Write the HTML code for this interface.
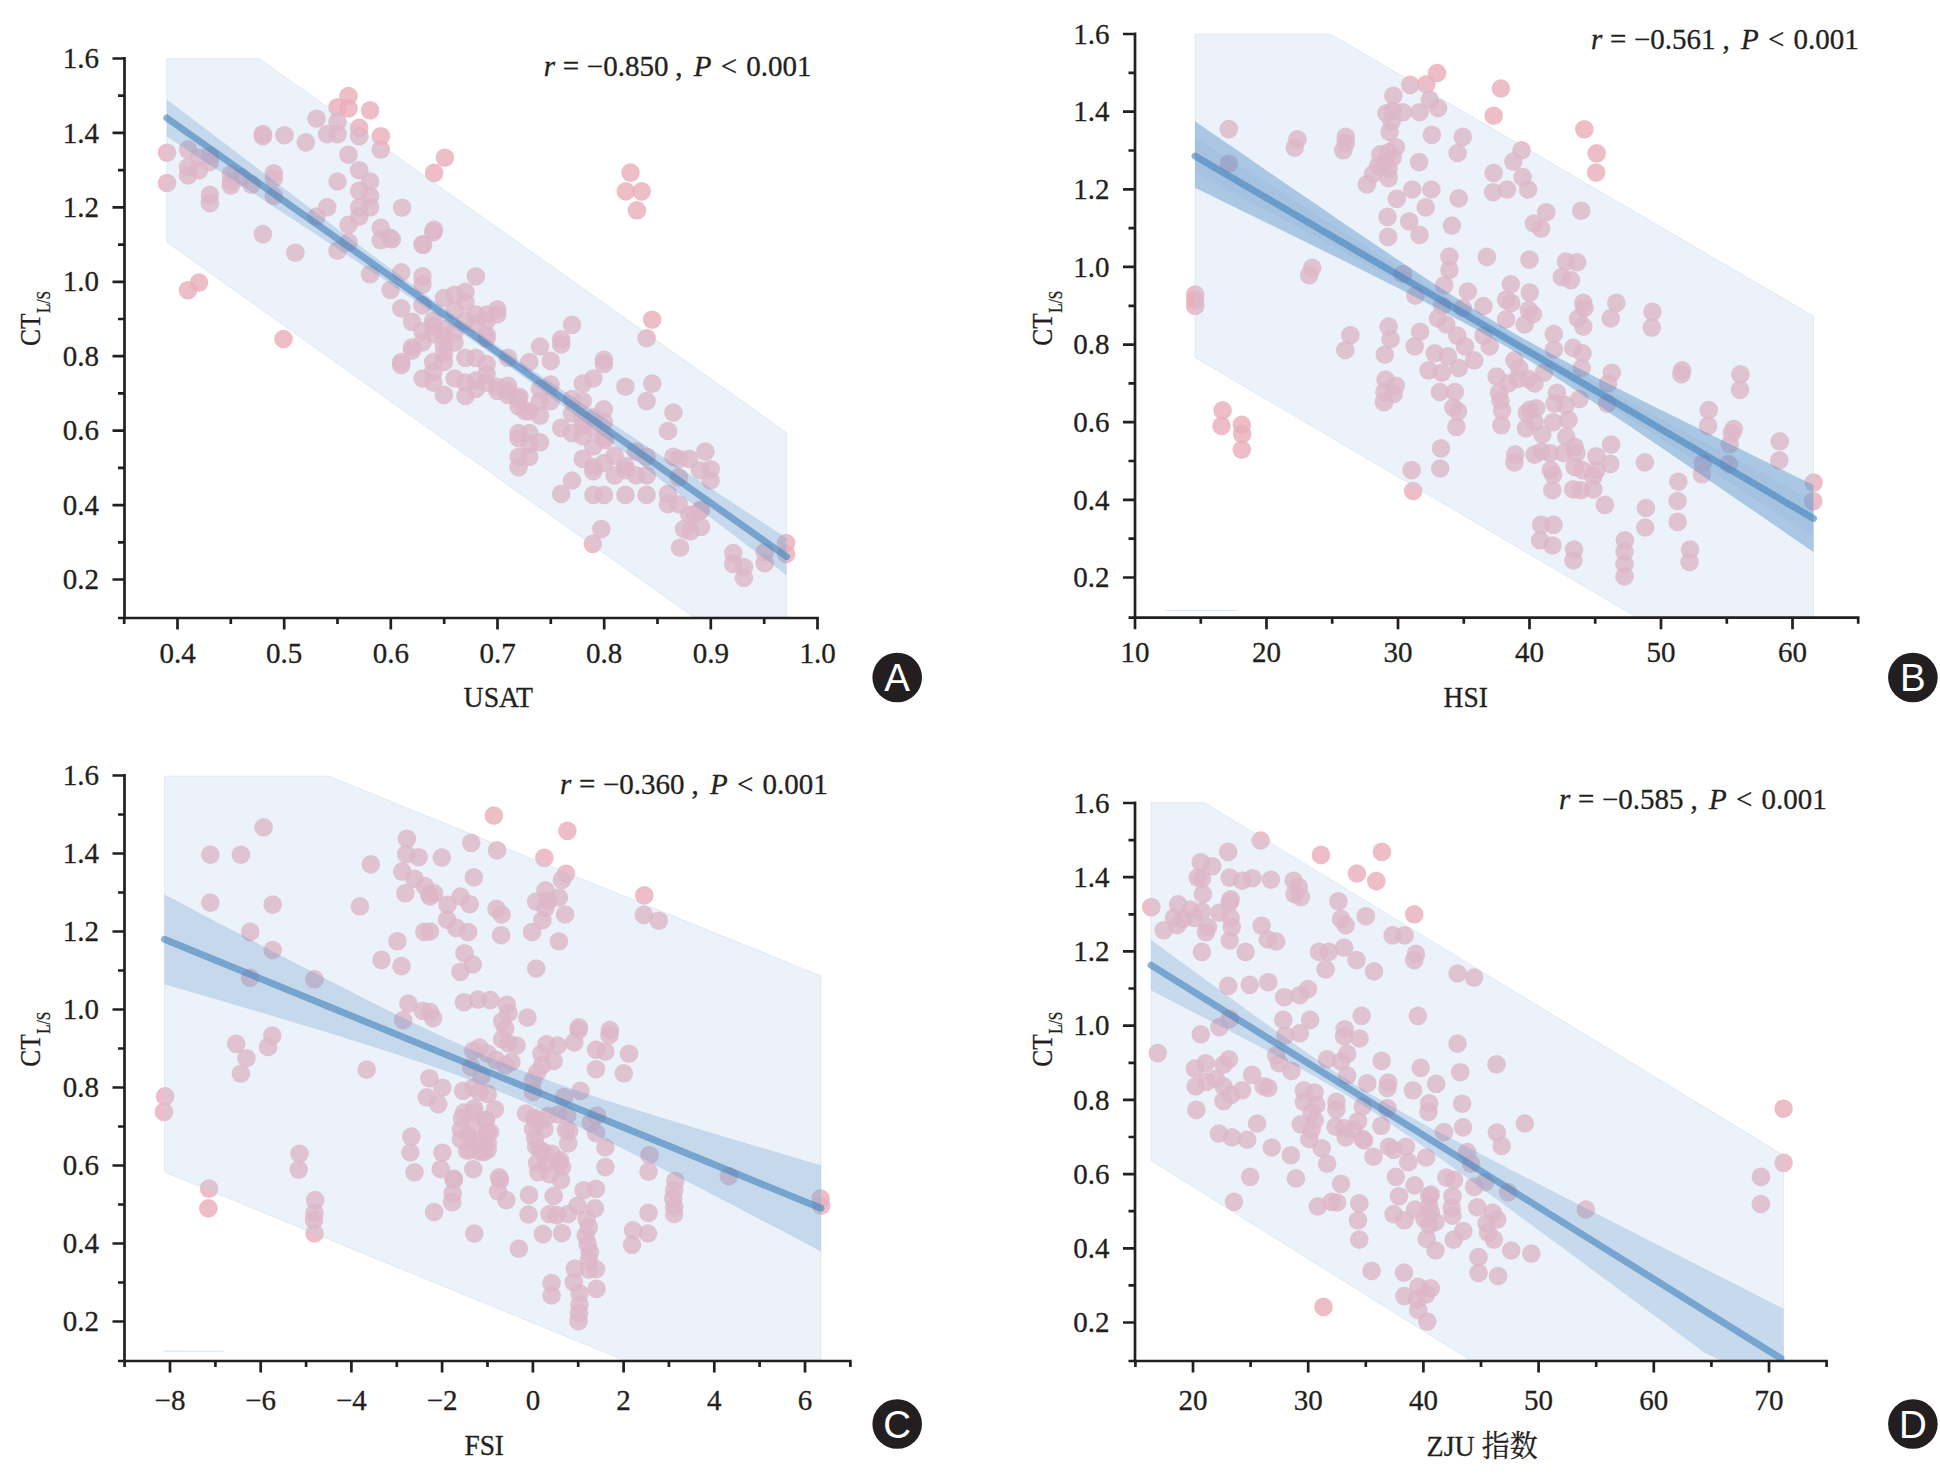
<!DOCTYPE html><html><head><meta charset="utf-8"><title>Figure</title>
<style>html,body{margin:0;padding:0;background:#fff}svg{display:block}text{font-family:"Liberation Serif", serif;fill:#231f20;stroke:#231f20;stroke-width:.3px}.s{font-family:"Liberation Sans", sans-serif}.t{font-size:29px}.d circle{fill:#eaaeba;fill-opacity:.8}</style></head><body>
<svg width="1940" height="1478" viewBox="0 0 1940 1478">
<rect width="1940" height="1478" fill="#fff"/>
<g id="panelA">
<g class="d">
<circle cx="167.0" cy="152.7" r="9.3"/>
<circle cx="167.0" cy="183.0" r="9.3"/>
<circle cx="188.0" cy="149.6" r="9.3"/>
<circle cx="188.0" cy="167.1" r="9.3"/>
<circle cx="188.0" cy="175.4" r="9.3"/>
<circle cx="199.0" cy="157.8" r="9.3"/>
<circle cx="199.0" cy="170.2" r="9.3"/>
<circle cx="209.9" cy="155.8" r="9.3"/>
<circle cx="209.9" cy="162.0" r="9.3"/>
<circle cx="209.9" cy="194.9" r="9.3"/>
<circle cx="209.9" cy="203.2" r="9.3"/>
<circle cx="230.9" cy="174.3" r="9.3"/>
<circle cx="230.9" cy="181.5" r="9.3"/>
<circle cx="230.9" cy="185.7" r="9.3"/>
<circle cx="241.2" cy="177.4" r="9.3"/>
<circle cx="251.5" cy="184.6" r="9.3"/>
<circle cx="262.9" cy="134.1" r="9.3"/>
<circle cx="262.9" cy="136.2" r="9.3"/>
<circle cx="262.9" cy="234.1" r="9.3"/>
<circle cx="273.8" cy="173.3" r="9.3"/>
<circle cx="273.8" cy="178.5" r="9.3"/>
<circle cx="273.8" cy="196.0" r="9.3"/>
<circle cx="284.5" cy="135.2" r="9.3"/>
<circle cx="295.3" cy="252.7" r="9.3"/>
<circle cx="305.8" cy="142.4" r="9.3"/>
<circle cx="316.5" cy="118.7" r="9.3"/>
<circle cx="316.5" cy="216.6" r="9.3"/>
<circle cx="327.2" cy="134.1" r="9.3"/>
<circle cx="327.2" cy="207.3" r="9.3"/>
<circle cx="337.5" cy="107.3" r="9.3"/>
<circle cx="337.5" cy="121.8" r="9.3"/>
<circle cx="337.5" cy="134.1" r="9.3"/>
<circle cx="337.5" cy="181.5" r="9.3"/>
<circle cx="337.5" cy="250.6" r="9.3"/>
<circle cx="348.5" cy="96.0" r="9.3"/>
<circle cx="348.5" cy="108.4" r="9.3"/>
<circle cx="348.5" cy="154.7" r="9.3"/>
<circle cx="348.5" cy="224.8" r="9.3"/>
<circle cx="348.5" cy="242.4" r="9.3"/>
<circle cx="359.2" cy="127.9" r="9.3"/>
<circle cx="359.2" cy="136.2" r="9.3"/>
<circle cx="359.2" cy="170.2" r="9.3"/>
<circle cx="359.2" cy="190.8" r="9.3"/>
<circle cx="359.2" cy="207.3" r="9.3"/>
<circle cx="359.2" cy="216.6" r="9.3"/>
<circle cx="370.1" cy="110.4" r="9.3"/>
<circle cx="370.1" cy="181.5" r="9.3"/>
<circle cx="370.1" cy="196.0" r="9.3"/>
<circle cx="370.1" cy="207.3" r="9.3"/>
<circle cx="370.1" cy="274.3" r="9.3"/>
<circle cx="380.8" cy="136.2" r="9.3"/>
<circle cx="380.8" cy="149.6" r="9.3"/>
<circle cx="380.8" cy="227.9" r="9.3"/>
<circle cx="380.8" cy="240.3" r="9.3"/>
<circle cx="391.8" cy="239.3" r="9.3"/>
<circle cx="188.0" cy="290.2" r="9.3"/>
<circle cx="199.0" cy="282.6" r="9.3"/>
<circle cx="390.5" cy="289.8" r="9.3"/>
<circle cx="401.2" cy="272.3" r="9.3"/>
<circle cx="401.2" cy="308.4" r="9.3"/>
<circle cx="401.2" cy="362.0" r="9.3"/>
<circle cx="401.2" cy="365.1" r="9.3"/>
<circle cx="412.0" cy="321.8" r="9.3"/>
<circle cx="412.0" cy="347.5" r="9.3"/>
<circle cx="412.0" cy="350.6" r="9.3"/>
<circle cx="422.5" cy="244.4" r="9.3"/>
<circle cx="422.5" cy="276.4" r="9.3"/>
<circle cx="422.5" cy="284.6" r="9.3"/>
<circle cx="422.5" cy="331.0" r="9.3"/>
<circle cx="422.5" cy="342.4" r="9.3"/>
<circle cx="422.5" cy="378.5" r="9.3"/>
<circle cx="433.2" cy="232.1" r="9.3"/>
<circle cx="433.2" cy="320.7" r="9.3"/>
<circle cx="433.2" cy="362.0" r="9.3"/>
<circle cx="433.2" cy="372.3" r="9.3"/>
<circle cx="433.2" cy="382.6" r="9.3"/>
<circle cx="443.9" cy="298.0" r="9.3"/>
<circle cx="443.9" cy="329.0" r="9.3"/>
<circle cx="443.9" cy="345.5" r="9.3"/>
<circle cx="443.9" cy="353.7" r="9.3"/>
<circle cx="443.9" cy="362.0" r="9.3"/>
<circle cx="443.9" cy="394.9" r="9.3"/>
<circle cx="454.6" cy="294.9" r="9.3"/>
<circle cx="454.6" cy="310.4" r="9.3"/>
<circle cx="454.6" cy="378.5" r="9.3"/>
<circle cx="465.4" cy="291.9" r="9.3"/>
<circle cx="465.4" cy="302.2" r="9.3"/>
<circle cx="465.4" cy="357.8" r="9.3"/>
<circle cx="465.4" cy="382.6" r="9.3"/>
<circle cx="465.4" cy="396.0" r="9.3"/>
<circle cx="475.9" cy="276.4" r="9.3"/>
<circle cx="475.9" cy="314.5" r="9.3"/>
<circle cx="475.9" cy="357.8" r="9.3"/>
<circle cx="475.9" cy="380.5" r="9.3"/>
<circle cx="475.9" cy="388.8" r="9.3"/>
<circle cx="486.6" cy="314.5" r="9.3"/>
<circle cx="486.6" cy="320.7" r="9.3"/>
<circle cx="486.6" cy="335.2" r="9.3"/>
<circle cx="486.6" cy="364.0" r="9.3"/>
<circle cx="486.6" cy="374.3" r="9.3"/>
<circle cx="486.6" cy="382.6" r="9.3"/>
<circle cx="497.3" cy="309.4" r="9.3"/>
<circle cx="497.3" cy="314.5" r="9.3"/>
<circle cx="497.3" cy="386.7" r="9.3"/>
<circle cx="497.3" cy="390.8" r="9.3"/>
<circle cx="508.0" cy="357.8" r="9.3"/>
<circle cx="508.0" cy="385.7" r="9.3"/>
<circle cx="508.0" cy="390.8" r="9.3"/>
<circle cx="508.0" cy="394.9" r="9.3"/>
<circle cx="518.6" cy="399.1" r="9.3"/>
<circle cx="518.6" cy="406.3" r="9.3"/>
<circle cx="518.6" cy="433.1" r="9.3"/>
<circle cx="518.6" cy="438.2" r="9.3"/>
<circle cx="518.6" cy="456.8" r="9.3"/>
<circle cx="518.6" cy="467.1" r="9.3"/>
<circle cx="529.3" cy="362.0" r="9.3"/>
<circle cx="529.3" cy="411.4" r="9.3"/>
<circle cx="529.3" cy="433.1" r="9.3"/>
<circle cx="529.3" cy="444.4" r="9.3"/>
<circle cx="529.3" cy="456.8" r="9.3"/>
<circle cx="540.0" cy="346.5" r="9.3"/>
<circle cx="540.0" cy="388.8" r="9.3"/>
<circle cx="540.0" cy="401.1" r="9.3"/>
<circle cx="540.0" cy="415.6" r="9.3"/>
<circle cx="540.0" cy="442.4" r="9.3"/>
<circle cx="550.7" cy="360.9" r="9.3"/>
<circle cx="550.7" cy="384.6" r="9.3"/>
<circle cx="550.7" cy="401.1" r="9.3"/>
<circle cx="561.2" cy="339.3" r="9.3"/>
<circle cx="561.2" cy="344.4" r="9.3"/>
<circle cx="561.2" cy="427.9" r="9.3"/>
<circle cx="561.2" cy="493.9" r="9.3"/>
<circle cx="572.0" cy="324.8" r="9.3"/>
<circle cx="572.0" cy="399.1" r="9.3"/>
<circle cx="572.0" cy="413.5" r="9.3"/>
<circle cx="572.0" cy="433.1" r="9.3"/>
<circle cx="572.0" cy="480.5" r="9.3"/>
<circle cx="582.7" cy="383.6" r="9.3"/>
<circle cx="582.7" cy="401.1" r="9.3"/>
<circle cx="582.7" cy="419.7" r="9.3"/>
<circle cx="582.7" cy="436.2" r="9.3"/>
<circle cx="582.7" cy="458.9" r="9.3"/>
<circle cx="593.4" cy="378.5" r="9.3"/>
<circle cx="593.4" cy="427.9" r="9.3"/>
<circle cx="593.4" cy="446.5" r="9.3"/>
<circle cx="593.4" cy="467.1" r="9.3"/>
<circle cx="593.4" cy="471.2" r="9.3"/>
<circle cx="593.4" cy="494.9" r="9.3"/>
<circle cx="603.9" cy="359.9" r="9.3"/>
<circle cx="603.9" cy="364.0" r="9.3"/>
<circle cx="603.9" cy="409.4" r="9.3"/>
<circle cx="603.9" cy="421.8" r="9.3"/>
<circle cx="603.9" cy="438.2" r="9.3"/>
<circle cx="603.9" cy="463.0" r="9.3"/>
<circle cx="603.9" cy="494.9" r="9.3"/>
<circle cx="614.6" cy="455.8" r="9.3"/>
<circle cx="614.6" cy="475.4" r="9.3"/>
<circle cx="625.4" cy="386.7" r="9.3"/>
<circle cx="625.4" cy="466.1" r="9.3"/>
<circle cx="625.4" cy="470.2" r="9.3"/>
<circle cx="625.4" cy="494.9" r="9.3"/>
<circle cx="636.1" cy="451.6" r="9.3"/>
<circle cx="636.1" cy="475.4" r="9.3"/>
<circle cx="646.6" cy="338.2" r="9.3"/>
<circle cx="646.6" cy="401.1" r="9.3"/>
<circle cx="646.6" cy="456.8" r="9.3"/>
<circle cx="646.6" cy="475.4" r="9.3"/>
<circle cx="646.6" cy="494.9" r="9.3"/>
<circle cx="652.2" cy="319.7" r="9.3"/>
<circle cx="652.2" cy="383.6" r="9.3"/>
<circle cx="668.0" cy="431.0" r="9.3"/>
<circle cx="668.0" cy="493.9" r="9.3"/>
<circle cx="668.0" cy="504.2" r="9.3"/>
<circle cx="673.4" cy="412.5" r="9.3"/>
<circle cx="673.4" cy="456.8" r="9.3"/>
<circle cx="678.8" cy="458.9" r="9.3"/>
<circle cx="678.8" cy="477.4" r="9.3"/>
<circle cx="678.8" cy="504.2" r="9.3"/>
<circle cx="689.3" cy="458.9" r="9.3"/>
<circle cx="689.3" cy="514.5" r="9.3"/>
<circle cx="700.0" cy="470.2" r="9.3"/>
<circle cx="700.0" cy="510.4" r="9.3"/>
<circle cx="705.4" cy="451.6" r="9.3"/>
<circle cx="710.7" cy="469.2" r="9.3"/>
<circle cx="710.7" cy="480.5" r="9.3"/>
<circle cx="444.9" cy="157.7" r="9.3"/>
<circle cx="434.1" cy="172.9" r="9.3"/>
<circle cx="402.1" cy="207.7" r="9.3"/>
<circle cx="434.1" cy="229.8" r="9.3"/>
<circle cx="423.2" cy="244.8" r="9.3"/>
<circle cx="390.0" cy="237.8" r="9.3"/>
<circle cx="630.5" cy="172.6" r="9.3"/>
<circle cx="625.8" cy="191.4" r="9.3"/>
<circle cx="641.7" cy="191.4" r="9.3"/>
<circle cx="636.9" cy="210.3" r="9.3"/>
<circle cx="592.8" cy="543.8" r="9.3"/>
<circle cx="601.3" cy="529.1" r="9.3"/>
<circle cx="680.1" cy="547.7" r="9.3"/>
<circle cx="733.2" cy="553.1" r="9.3"/>
<circle cx="733.2" cy="563.9" r="9.3"/>
<circle cx="743.9" cy="567.0" r="9.3"/>
<circle cx="743.9" cy="577.8" r="9.3"/>
<circle cx="764.7" cy="552.3" r="9.3"/>
<circle cx="764.7" cy="563.1" r="9.3"/>
<circle cx="786.1" cy="543.0" r="9.3"/>
<circle cx="786.1" cy="553.9" r="9.3"/>
<circle cx="684.0" cy="529.1" r="9.3"/>
<circle cx="690.5" cy="531.4" r="9.3"/>
<circle cx="701.0" cy="526.8" r="9.3"/>
<circle cx="694.8" cy="514.4" r="9.3"/>
<circle cx="701.0" cy="509.8" r="9.3"/>
<circle cx="283.5" cy="339.0" r="9.3"/>
<circle cx="422.5" cy="305.4" r="9.3"/>
<circle cx="433.2" cy="326.0" r="9.3"/>
<circle cx="433.2" cy="334.2" r="9.3"/>
<circle cx="443.8" cy="336.0" r="9.3"/>
<circle cx="454.5" cy="332.2" r="9.3"/>
<circle cx="454.5" cy="342.5" r="9.3"/>
<circle cx="465.2" cy="320.8" r="9.3"/>
<circle cx="475.8" cy="323.9" r="9.3"/>
<circle cx="486.5" cy="338.4" r="9.3"/>
<circle cx="519.4" cy="396.8" r="9.3"/>
<circle cx="525.0" cy="411.0" r="9.3"/>
<circle cx="582.8" cy="425.7" r="9.3"/>
<circle cx="593.0" cy="417.4" r="9.3"/>
<circle cx="605.0" cy="440.0" r="9.3"/>
</g>
<polygon points="166.8,58.7 259.4,58.7 786.4,432.5 786.4,617.0 693.4,617.0 166.8,242.2" fill="#bbd1ea" fill-opacity=".28" stroke="#b9d2ea" stroke-opacity=".35" stroke-width="1"/>
<polygon points="166.8,99.4 182.3,111.2 197.8,123.0 213.3,134.8 228.8,146.6 244.3,158.3 259.8,170.1 275.3,181.9 290.8,193.6 306.3,205.3 321.8,217.0 337.2,228.7 352.7,240.4 368.2,252.0 383.7,263.6 399.2,275.1 414.7,286.5 430.2,297.9 445.7,309.2 461.2,320.3 476.7,331.3 492.2,342.2 507.7,353.0 523.2,363.7 538.7,374.2 554.2,384.7 569.7,395.1 585.2,405.5 600.7,415.8 616.2,426.1 631.7,436.3 647.1,446.5 662.6,456.7 678.1,466.9 693.6,477.1 709.1,487.3 724.6,497.4 740.1,507.6 755.6,517.7 771.1,527.9 786.6,538.0 786.6,575.4 771.1,563.6 755.6,551.8 740.1,540.0 724.6,528.2 709.1,516.4 693.6,504.7 678.1,492.9 662.6,481.2 647.1,469.4 631.7,457.7 616.2,446.0 600.7,434.4 585.2,422.8 569.7,411.2 554.2,399.7 538.7,388.2 523.2,376.8 507.7,365.6 492.2,354.4 476.7,343.4 461.2,332.4 445.7,321.7 430.2,311.0 414.7,300.4 399.2,289.9 383.7,279.5 368.2,269.2 352.7,258.8 337.2,248.6 321.8,238.3 306.3,228.1 290.8,217.9 275.3,207.7 259.8,197.5 244.3,187.3 228.8,177.2 213.3,167.0 197.8,156.9 182.3,146.8 166.8,136.6" fill="#4f8cc6" fill-opacity="0.25"/>
<line x1="166.8" y1="118.0" x2="786.6" y2="556.7" stroke="#4182ba" stroke-opacity=".6" stroke-width="6.9" stroke-linecap="round"/>
<path d="M124.5 57.1V619.4M118.0 618.0H818.9M112.5 58.5h12.0M118.0 95.7h6.5M112.5 132.9h12.0M118.0 170.1h6.5M112.5 207.4h12.0M118.0 244.6h6.5M112.5 281.8h12.0M118.0 319.0h6.5M112.5 356.2h12.0M118.0 393.4h6.5M112.5 430.6h12.0M118.0 467.9h6.5M112.5 505.1h12.0M118.0 542.3h6.5M112.5 579.5h12.0M177.5 618.0v11.5M284.2 618.0v11.5M390.8 618.0v11.5M497.5 618.0v11.5M604.2 618.0v11.5M710.8 618.0v11.5M817.5 618.0v11.5M124.2 618.0v6M230.8 618.0v6M337.5 618.0v6M444.2 618.0v6M550.8 618.0v6M657.5 618.0v6M764.2 618.0v6" stroke="#231f20" stroke-width="2.7" fill="none"/>
<text class="t" x="99.0" y="68.1" text-anchor="end">1.6</text>
<text class="t" x="99.0" y="142.5" text-anchor="end">1.4</text>
<text class="t" x="99.0" y="217.0" text-anchor="end">1.2</text>
<text class="t" x="99.0" y="291.4" text-anchor="end">1.0</text>
<text class="t" x="99.0" y="365.8" text-anchor="end">0.8</text>
<text class="t" x="99.0" y="440.2" text-anchor="end">0.6</text>
<text class="t" x="99.0" y="514.7" text-anchor="end">0.4</text>
<text class="t" x="99.0" y="589.1" text-anchor="end">0.2</text>
<text class="t" x="177.5" y="662.7" text-anchor="middle">0.4</text>
<text class="t" x="284.2" y="662.7" text-anchor="middle">0.5</text>
<text class="t" x="390.8" y="662.7" text-anchor="middle">0.6</text>
<text class="t" x="497.5" y="662.7" text-anchor="middle">0.7</text>
<text class="t" x="604.2" y="662.7" text-anchor="middle">0.8</text>
<text class="t" x="710.8" y="662.7" text-anchor="middle">0.9</text>
<text class="t" x="817.5" y="662.7" text-anchor="middle">1.0</text>
<text x="463.6" y="706.9" textLength="69.5" lengthAdjust="spacingAndGlyphs" style="font-size:29.5px;font-family:&quot;Liberation Serif&quot;, &quot;Noto Serif CJK SC&quot;, serif">USAT</text>
<text transform="translate(39.8 346.0) rotate(-90)" style="font-size:30px"><tspan textLength="32.5" lengthAdjust="spacingAndGlyphs">CT</tspan><tspan dy="9.7" dx="0.5" style="font-size:18px" textLength="22" lengthAdjust="spacingAndGlyphs">L/S</tspan></text>
<text class="t" y="76.0"><tspan x="543.8" font-style="italic">r</tspan><tspan x="562.8">=</tspan><tspan x="586.8">−0.850</tspan><tspan x="675.3">,</tspan><tspan x="693.8" font-style="italic">P</tspan><tspan x="720.8">&lt;</tspan><tspan x="746.3">0.001</tspan></text>
<circle cx="897.2" cy="677.5" r="24.8" fill="#231f20"/>
<text class="s" x="897.2" y="691.3" text-anchor="middle" style="font-size:38.5px;fill:#fff;stroke:none">A</text>
</g>
<g id="panelB">
<g class="d">
<circle cx="1228.8" cy="129.1" r="9.3"/>
<circle cx="1228.8" cy="163.7" r="9.3"/>
<circle cx="1297.4" cy="139.4" r="9.3"/>
<circle cx="1294.7" cy="147.6" r="9.3"/>
<circle cx="1345.7" cy="136.9" r="9.3"/>
<circle cx="1345.7" cy="143.1" r="9.3"/>
<circle cx="1343.2" cy="150.3" r="9.3"/>
<circle cx="1195.2" cy="294.6" r="9.3"/>
<circle cx="1195.2" cy="299.8" r="9.3"/>
<circle cx="1195.2" cy="306.0" r="9.3"/>
<circle cx="1312.3" cy="267.8" r="9.3"/>
<circle cx="1309.2" cy="275.1" r="9.3"/>
<circle cx="1437.0" cy="73.0" r="9.3"/>
<circle cx="1426.3" cy="84.3" r="9.3"/>
<circle cx="1410.2" cy="84.9" r="9.3"/>
<circle cx="1393.3" cy="95.7" r="9.3"/>
<circle cx="1429.8" cy="99.8" r="9.3"/>
<circle cx="1438.0" cy="108.0" r="9.3"/>
<circle cx="1419.5" cy="112.2" r="9.3"/>
<circle cx="1403.0" cy="112.2" r="9.3"/>
<circle cx="1392.7" cy="111.1" r="9.3"/>
<circle cx="1386.5" cy="113.2" r="9.3"/>
<circle cx="1391.6" cy="121.4" r="9.3"/>
<circle cx="1389.6" cy="131.8" r="9.3"/>
<circle cx="1431.9" cy="134.8" r="9.3"/>
<circle cx="1462.8" cy="136.9" r="9.3"/>
<circle cx="1457.6" cy="153.0" r="9.3"/>
<circle cx="1395.8" cy="147.2" r="9.3"/>
<circle cx="1388.6" cy="152.4" r="9.3"/>
<circle cx="1380.3" cy="154.4" r="9.3"/>
<circle cx="1392.7" cy="157.5" r="9.3"/>
<circle cx="1384.4" cy="161.6" r="9.3"/>
<circle cx="1378.2" cy="165.8" r="9.3"/>
<circle cx="1388.6" cy="168.9" r="9.3"/>
<circle cx="1373.1" cy="174.0" r="9.3"/>
<circle cx="1388.6" cy="178.1" r="9.3"/>
<circle cx="1366.9" cy="184.3" r="9.3"/>
<circle cx="1419.1" cy="162.1" r="9.3"/>
<circle cx="1412.3" cy="189.5" r="9.3"/>
<circle cx="1431.4" cy="189.5" r="9.3"/>
<circle cx="1396.8" cy="198.8" r="9.3"/>
<circle cx="1425.7" cy="207.4" r="9.3"/>
<circle cx="1458.7" cy="198.4" r="9.3"/>
<circle cx="1387.5" cy="216.9" r="9.3"/>
<circle cx="1409.2" cy="221.4" r="9.3"/>
<circle cx="1419.5" cy="234.8" r="9.3"/>
<circle cx="1388.1" cy="236.9" r="9.3"/>
<circle cx="1451.9" cy="225.6" r="9.3"/>
<circle cx="1500.9" cy="88.5" r="9.3"/>
<circle cx="1493.7" cy="115.7" r="9.3"/>
<circle cx="1521.5" cy="150.3" r="9.3"/>
<circle cx="1513.3" cy="161.6" r="9.3"/>
<circle cx="1493.7" cy="173.0" r="9.3"/>
<circle cx="1522.6" cy="177.1" r="9.3"/>
<circle cx="1493.1" cy="192.2" r="9.3"/>
<circle cx="1507.1" cy="189.5" r="9.3"/>
<circle cx="1528.1" cy="189.5" r="9.3"/>
<circle cx="1546.3" cy="212.2" r="9.3"/>
<circle cx="1533.9" cy="223.5" r="9.3"/>
<circle cx="1541.1" cy="228.7" r="9.3"/>
<circle cx="1449.4" cy="256.5" r="9.3"/>
<circle cx="1449.4" cy="269.9" r="9.3"/>
<circle cx="1486.9" cy="256.9" r="9.3"/>
<circle cx="1529.4" cy="259.6" r="9.3"/>
<circle cx="1565.9" cy="261.6" r="9.3"/>
<circle cx="1444.2" cy="285.4" r="9.3"/>
<circle cx="1403.0" cy="274.0" r="9.3"/>
<circle cx="1415.4" cy="295.7" r="9.3"/>
<circle cx="1467.9" cy="291.5" r="9.3"/>
<circle cx="1510.8" cy="284.3" r="9.3"/>
<circle cx="1529.8" cy="292.6" r="9.3"/>
<circle cx="1561.8" cy="277.1" r="9.3"/>
<circle cx="1506.1" cy="299.8" r="9.3"/>
<circle cx="1511.2" cy="302.9" r="9.3"/>
<circle cx="1483.4" cy="306.0" r="9.3"/>
<circle cx="1442.2" cy="306.0" r="9.3"/>
<circle cx="1462.8" cy="308.0" r="9.3"/>
<circle cx="1528.8" cy="310.1" r="9.3"/>
<circle cx="1532.9" cy="314.2" r="9.3"/>
<circle cx="1438.0" cy="318.4" r="9.3"/>
<circle cx="1446.3" cy="324.5" r="9.3"/>
<circle cx="1506.1" cy="319.4" r="9.3"/>
<circle cx="1524.6" cy="324.5" r="9.3"/>
<circle cx="1388.6" cy="326.6" r="9.3"/>
<circle cx="1584.3" cy="129.3" r="9.3"/>
<circle cx="1596.7" cy="153.4" r="9.3"/>
<circle cx="1596.1" cy="172.6" r="9.3"/>
<circle cx="1581.2" cy="210.7" r="9.3"/>
<circle cx="1577.1" cy="262.3" r="9.3"/>
<circle cx="1570.9" cy="280.2" r="9.3"/>
<circle cx="1583.3" cy="302.9" r="9.3"/>
<circle cx="1584.3" cy="308.0" r="9.3"/>
<circle cx="1616.3" cy="302.9" r="9.3"/>
<circle cx="1610.7" cy="318.4" r="9.3"/>
<circle cx="1652.4" cy="311.8" r="9.3"/>
<circle cx="1651.8" cy="327.6" r="9.3"/>
<circle cx="1578.1" cy="318.4" r="9.3"/>
<circle cx="1583.3" cy="326.6" r="9.3"/>
<circle cx="1222.6" cy="410.4" r="9.3"/>
<circle cx="1221.5" cy="425.9" r="9.3"/>
<circle cx="1241.8" cy="424.8" r="9.3"/>
<circle cx="1242.2" cy="434.1" r="9.3"/>
<circle cx="1241.8" cy="449.6" r="9.3"/>
<circle cx="1350.4" cy="335.2" r="9.3"/>
<circle cx="1345.3" cy="350.0" r="9.3"/>
<circle cx="1390.6" cy="339.3" r="9.3"/>
<circle cx="1384.8" cy="354.7" r="9.3"/>
<circle cx="1385.5" cy="379.5" r="9.3"/>
<circle cx="1395.8" cy="385.7" r="9.3"/>
<circle cx="1384.4" cy="391.9" r="9.3"/>
<circle cx="1393.7" cy="393.9" r="9.3"/>
<circle cx="1384.0" cy="402.2" r="9.3"/>
<circle cx="1541.1" cy="524.8" r="9.3"/>
<circle cx="1553.5" cy="524.8" r="9.3"/>
<circle cx="1540.1" cy="540.3" r="9.3"/>
<circle cx="1552.5" cy="545.5" r="9.3"/>
<circle cx="1708.7" cy="410.0" r="9.3"/>
<circle cx="1708.0" cy="425.9" r="9.3"/>
<circle cx="1733.8" cy="429.0" r="9.3"/>
<circle cx="1731.8" cy="433.1" r="9.3"/>
<circle cx="1729.7" cy="444.4" r="9.3"/>
<circle cx="1728.7" cy="464.0" r="9.3"/>
<circle cx="1702.9" cy="463.0" r="9.3"/>
<circle cx="1701.9" cy="474.3" r="9.3"/>
<circle cx="1740.4" cy="374.3" r="9.3"/>
<circle cx="1740.0" cy="389.8" r="9.3"/>
<circle cx="1779.8" cy="441.3" r="9.3"/>
<circle cx="1779.2" cy="460.3" r="9.3"/>
<circle cx="1813.6" cy="482.6" r="9.3"/>
<circle cx="1813.2" cy="501.1" r="9.3"/>
<circle cx="1574.0" cy="549.6" r="9.3"/>
<circle cx="1573.4" cy="560.5" r="9.3"/>
<circle cx="1624.9" cy="540.3" r="9.3"/>
<circle cx="1624.5" cy="551.6" r="9.3"/>
<circle cx="1624.5" cy="564.0" r="9.3"/>
<circle cx="1624.5" cy="576.4" r="9.3"/>
<circle cx="1690.1" cy="549.6" r="9.3"/>
<circle cx="1689.5" cy="562.0" r="9.3"/>
<circle cx="1645.2" cy="527.5" r="9.3"/>
<circle cx="1420.1" cy="331.7" r="9.3"/>
<circle cx="1414.7" cy="346.4" r="9.3"/>
<circle cx="1434.8" cy="353.3" r="9.3"/>
<circle cx="1447.9" cy="356.4" r="9.3"/>
<circle cx="1428.6" cy="370.4" r="9.3"/>
<circle cx="1441.8" cy="372.7" r="9.3"/>
<circle cx="1458.8" cy="368.0" r="9.3"/>
<circle cx="1474.2" cy="360.3" r="9.3"/>
<circle cx="1464.9" cy="346.4" r="9.3"/>
<circle cx="1457.2" cy="335.6" r="9.3"/>
<circle cx="1489.7" cy="346.4" r="9.3"/>
<circle cx="1483.5" cy="335.6" r="9.3"/>
<circle cx="1439.9" cy="392.0" r="9.3"/>
<circle cx="1454.9" cy="392.0" r="9.3"/>
<circle cx="1453.3" cy="407.5" r="9.3"/>
<circle cx="1458.0" cy="411.3" r="9.3"/>
<circle cx="1456.4" cy="426.8" r="9.3"/>
<circle cx="1441.0" cy="448.4" r="9.3"/>
<circle cx="1440.2" cy="468.5" r="9.3"/>
<circle cx="1411.6" cy="470.1" r="9.3"/>
<circle cx="1413.1" cy="491.0" r="9.3"/>
<circle cx="1496.6" cy="376.5" r="9.3"/>
<circle cx="1508.2" cy="383.5" r="9.3"/>
<circle cx="1499.0" cy="392.8" r="9.3"/>
<circle cx="1500.5" cy="400.5" r="9.3"/>
<circle cx="1502.1" cy="410.6" r="9.3"/>
<circle cx="1501.3" cy="425.3" r="9.3"/>
<circle cx="1514.4" cy="360.3" r="9.3"/>
<circle cx="1519.1" cy="368.0" r="9.3"/>
<circle cx="1528.3" cy="378.9" r="9.3"/>
<circle cx="1534.5" cy="383.5" r="9.3"/>
<circle cx="1517.5" cy="378.9" r="9.3"/>
<circle cx="1543.8" cy="372.7" r="9.3"/>
<circle cx="1553.9" cy="334.0" r="9.3"/>
<circle cx="1553.9" cy="349.5" r="9.3"/>
<circle cx="1573.2" cy="347.9" r="9.3"/>
<circle cx="1582.5" cy="353.3" r="9.3"/>
<circle cx="1581.7" cy="368.0" r="9.3"/>
<circle cx="1579.4" cy="399.0" r="9.3"/>
<circle cx="1557.0" cy="392.8" r="9.3"/>
<circle cx="1554.6" cy="403.6" r="9.3"/>
<circle cx="1565.5" cy="405.1" r="9.3"/>
<circle cx="1529.9" cy="409.8" r="9.3"/>
<circle cx="1536.1" cy="408.2" r="9.3"/>
<circle cx="1526.8" cy="412.9" r="9.3"/>
<circle cx="1534.5" cy="422.2" r="9.3"/>
<circle cx="1526.0" cy="428.3" r="9.3"/>
<circle cx="1553.1" cy="422.2" r="9.3"/>
<circle cx="1568.5" cy="419.8" r="9.3"/>
<circle cx="1542.3" cy="434.5" r="9.3"/>
<circle cx="1566.2" cy="436.8" r="9.3"/>
<circle cx="1574.7" cy="446.9" r="9.3"/>
<circle cx="1576.3" cy="453.1" r="9.3"/>
<circle cx="1541.5" cy="451.5" r="9.3"/>
<circle cx="1534.5" cy="454.6" r="9.3"/>
<circle cx="1550.0" cy="453.1" r="9.3"/>
<circle cx="1563.9" cy="453.1" r="9.3"/>
<circle cx="1515.2" cy="454.6" r="9.3"/>
<circle cx="1514.4" cy="462.4" r="9.3"/>
<circle cx="1550.8" cy="470.1" r="9.3"/>
<circle cx="1553.1" cy="474.7" r="9.3"/>
<circle cx="1552.3" cy="490.2" r="9.3"/>
<circle cx="1574.7" cy="467.0" r="9.3"/>
<circle cx="1582.5" cy="470.1" r="9.3"/>
<circle cx="1596.4" cy="456.2" r="9.3"/>
<circle cx="1611.1" cy="444.6" r="9.3"/>
<circle cx="1610.3" cy="463.9" r="9.3"/>
<circle cx="1596.4" cy="470.1" r="9.3"/>
<circle cx="1593.3" cy="476.3" r="9.3"/>
<circle cx="1573.2" cy="489.4" r="9.3"/>
<circle cx="1580.9" cy="490.2" r="9.3"/>
<circle cx="1593.3" cy="489.4" r="9.3"/>
<circle cx="1604.9" cy="504.9" r="9.3"/>
<circle cx="1611.8" cy="372.7" r="9.3"/>
<circle cx="1608.0" cy="383.5" r="9.3"/>
<circle cx="1607.2" cy="403.6" r="9.3"/>
<circle cx="1644.8" cy="462.4" r="9.3"/>
<circle cx="1682.2" cy="370.4" r="9.3"/>
<circle cx="1681.4" cy="374.2" r="9.3"/>
<circle cx="1678.3" cy="481.7" r="9.3"/>
<circle cx="1677.6" cy="501.0" r="9.3"/>
<circle cx="1645.9" cy="508.0" r="9.3"/>
<circle cx="1677.6" cy="521.9" r="9.3"/>
</g>
<polygon points="1195.0,34.0 1330.3,34.0 1813.5,316.1 1813.5,617.5 1637.0,617.5 1195.0,357.5" fill="#bbd1ea" fill-opacity=".28" stroke="#b9d2ea" stroke-opacity=".35" stroke-width="1"/>
<polygon points="1195.0,121.2 1210.5,131.9 1225.9,142.5 1241.4,153.1 1256.8,163.8 1272.3,174.4 1287.8,185.0 1303.2,195.6 1318.7,206.1 1334.2,216.7 1349.6,227.2 1365.1,237.7 1380.5,248.1 1396.0,258.5 1411.5,268.8 1426.9,279.0 1442.4,289.1 1457.9,299.0 1473.3,308.8 1488.8,318.3 1504.2,327.5 1519.7,336.4 1535.2,345.1 1550.6,353.5 1566.1,361.8 1581.6,369.8 1597.0,377.8 1612.5,385.7 1628.0,393.5 1643.4,401.2 1658.9,409.0 1674.3,416.6 1689.8,424.3 1705.3,431.9 1720.7,439.5 1736.2,447.1 1751.7,454.7 1767.1,462.3 1782.6,469.9 1798.0,477.4 1813.5,485.0 1813.5,552.0 1798.0,541.4 1782.6,530.7 1767.1,520.1 1751.7,509.5 1736.2,498.9 1720.7,488.3 1705.3,477.7 1689.8,467.1 1674.3,456.6 1658.9,446.0 1643.4,435.6 1628.0,425.1 1612.5,414.7 1597.0,404.4 1581.6,394.2 1566.1,384.0 1550.6,374.1 1535.2,364.3 1519.7,354.8 1504.2,345.5 1488.8,336.5 1473.3,327.8 1457.9,319.4 1442.4,311.1 1426.9,303.0 1411.5,295.0 1396.0,287.1 1380.5,279.3 1365.1,271.5 1349.6,263.8 1334.2,256.1 1318.7,248.5 1303.2,240.8 1287.8,233.2 1272.3,225.6 1256.8,218.0 1241.4,210.5 1225.9,202.9 1210.5,195.3 1195.0,187.8" fill="#4f8cc6" fill-opacity="0.42"/>
<polygon points="1195.0,136.8 1210.5,146.8 1225.9,156.7 1241.4,166.6 1256.8,176.5 1272.3,186.4 1287.8,196.2 1303.2,206.1 1318.7,216.0 1334.2,225.9 1349.6,235.7 1365.1,245.5 1380.5,255.3 1396.0,265.1 1411.5,274.8 1426.9,284.5 1442.4,294.1 1457.9,303.6 1473.3,313.0 1488.8,322.3 1504.2,331.5 1519.7,340.5 1535.2,349.4 1550.6,358.2 1566.1,366.8 1581.6,375.4 1597.0,383.9 1612.5,392.4 1628.0,400.8 1643.4,409.2 1658.9,417.6 1674.3,425.9 1689.8,434.3 1705.3,442.6 1720.7,450.9 1736.2,459.2 1751.7,467.5 1767.1,475.8 1782.6,484.1 1798.0,492.4 1813.5,500.7 1813.5,536.3 1798.0,526.4 1782.6,516.5 1767.1,506.6 1751.7,496.7 1736.2,486.8 1720.7,476.9 1705.3,467.0 1689.8,457.1 1674.3,447.3 1658.9,437.4 1643.4,427.6 1628.0,417.8 1612.5,408.0 1597.0,398.3 1581.6,388.6 1566.1,379.0 1550.6,369.4 1535.2,360.0 1519.7,350.7 1504.2,341.5 1488.8,332.5 1473.3,323.6 1457.9,314.8 1442.4,306.1 1426.9,297.5 1411.5,289.0 1396.0,280.5 1380.5,272.1 1365.1,263.7 1349.6,255.3 1334.2,246.9 1318.7,238.6 1303.2,230.3 1287.8,222.0 1272.3,213.6 1256.8,205.3 1241.4,197.0 1225.9,188.7 1210.5,180.4 1195.0,172.2" fill="#4f8cc6" fill-opacity="0.06"/>
<path d="M1165 610.5H1237" stroke="#dbe7f4" stroke-width="1.2"/>
<line x1="1195.0" y1="156.0" x2="1813.5" y2="518.5" stroke="#4182ba" stroke-opacity=".6" stroke-width="6.9" stroke-linecap="round"/>
<path d="M1135.0 32.6V619.1M1128.5 617.7H1859.6M1123.0 34.0h12.0M1128.5 72.8h6.5M1123.0 111.6h12.0M1128.5 150.5h6.5M1123.0 189.3h12.0M1128.5 228.1h6.5M1123.0 266.9h12.0M1128.5 305.8h6.5M1123.0 344.6h12.0M1128.5 383.4h6.5M1123.0 422.2h12.0M1128.5 461.0h6.5M1123.0 499.9h12.0M1128.5 538.7h6.5M1123.0 577.5h12.0M1135.0 617.7v11.5M1266.5 617.7v11.5M1398.0 617.7v11.5M1529.5 617.7v11.5M1661.0 617.7v11.5M1792.5 617.7v11.5M1200.8 617.7v6M1332.2 617.7v6M1463.8 617.7v6M1595.2 617.7v6M1726.8 617.7v6M1858.2 617.7v6" stroke="#231f20" stroke-width="2.7" fill="none"/>
<text class="t" x="1109.5" y="43.6" text-anchor="end">1.6</text>
<text class="t" x="1109.5" y="121.2" text-anchor="end">1.4</text>
<text class="t" x="1109.5" y="198.9" text-anchor="end">1.2</text>
<text class="t" x="1109.5" y="276.5" text-anchor="end">1.0</text>
<text class="t" x="1109.5" y="354.2" text-anchor="end">0.8</text>
<text class="t" x="1109.5" y="431.8" text-anchor="end">0.6</text>
<text class="t" x="1109.5" y="509.5" text-anchor="end">0.4</text>
<text class="t" x="1109.5" y="587.1" text-anchor="end">0.2</text>
<text class="t" x="1135.0" y="662.4" text-anchor="middle">10</text>
<text class="t" x="1266.5" y="662.4" text-anchor="middle">20</text>
<text class="t" x="1398.0" y="662.4" text-anchor="middle">30</text>
<text class="t" x="1529.5" y="662.4" text-anchor="middle">40</text>
<text class="t" x="1661.0" y="662.4" text-anchor="middle">50</text>
<text class="t" x="1792.5" y="662.4" text-anchor="middle">60</text>
<text x="1443.6" y="706.9" textLength="44.3" lengthAdjust="spacingAndGlyphs" style="font-size:29.5px;font-family:&quot;Liberation Serif&quot;, &quot;Noto Serif CJK SC&quot;, serif">HSI</text>
<text transform="translate(1051.8 345.8) rotate(-90)" style="font-size:30px"><tspan textLength="32.5" lengthAdjust="spacingAndGlyphs">CT</tspan><tspan dy="9.7" dx="0.5" style="font-size:18px" textLength="22" lengthAdjust="spacingAndGlyphs">L/S</tspan></text>
<text class="t" y="49.0"><tspan x="1591.0" font-style="italic">r</tspan><tspan x="1610.0">=</tspan><tspan x="1634.0">−0.561</tspan><tspan x="1722.5">,</tspan><tspan x="1741.0" font-style="italic">P</tspan><tspan x="1768.0">&lt;</tspan><tspan x="1793.5">0.001</tspan></text>
<circle cx="1912.9" cy="677.5" r="24.8" fill="#231f20"/>
<text class="s" x="1912.9" y="691.3" text-anchor="middle" style="font-size:38.5px;fill:#fff;stroke:none">B</text>
</g>
<g id="panelC">
<g class="d">
<circle cx="263.6" cy="827.3" r="9.3"/>
<circle cx="210.4" cy="854.7" r="9.3"/>
<circle cx="240.9" cy="854.7" r="9.3"/>
<circle cx="210.4" cy="902.6" r="9.3"/>
<circle cx="272.7" cy="904.6" r="9.3"/>
<circle cx="250.2" cy="931.9" r="9.3"/>
<circle cx="272.7" cy="950.0" r="9.3"/>
<circle cx="250.0" cy="977.8" r="9.3"/>
<circle cx="314.5" cy="979.3" r="9.3"/>
<circle cx="370.8" cy="864.4" r="9.3"/>
<circle cx="359.9" cy="906.3" r="9.3"/>
<circle cx="397.4" cy="941.3" r="9.3"/>
<circle cx="381.5" cy="959.9" r="9.3"/>
<circle cx="401.5" cy="966.1" r="9.3"/>
<circle cx="424.4" cy="931.9" r="9.3"/>
<circle cx="493.9" cy="815.6" r="9.3"/>
<circle cx="406.9" cy="838.7" r="9.3"/>
<circle cx="471.2" cy="842.8" r="9.3"/>
<circle cx="497.0" cy="850.4" r="9.3"/>
<circle cx="406.3" cy="854.1" r="9.3"/>
<circle cx="418.7" cy="857.2" r="9.3"/>
<circle cx="441.8" cy="857.6" r="9.3"/>
<circle cx="402.2" cy="871.6" r="9.3"/>
<circle cx="414.5" cy="878.9" r="9.3"/>
<circle cx="424.8" cy="886.1" r="9.3"/>
<circle cx="405.3" cy="893.3" r="9.3"/>
<circle cx="429.0" cy="894.3" r="9.3"/>
<circle cx="473.9" cy="877.4" r="9.3"/>
<circle cx="408.4" cy="1003.6" r="9.3"/>
<circle cx="422.8" cy="1010.8" r="9.3"/>
<circle cx="403.2" cy="1020.1" r="9.3"/>
<circle cx="272.3" cy="1035.6" r="9.3"/>
<circle cx="236.2" cy="1043.8" r="9.3"/>
<circle cx="268.1" cy="1046.9" r="9.3"/>
<circle cx="567.4" cy="830.8" r="9.3"/>
<circle cx="544.3" cy="857.8" r="9.3"/>
<circle cx="566.0" cy="873.7" r="9.3"/>
<circle cx="561.9" cy="879.9" r="9.3"/>
<circle cx="644.3" cy="895.4" r="9.3"/>
<circle cx="643.9" cy="914.9" r="9.3"/>
<circle cx="658.8" cy="920.7" r="9.3"/>
<circle cx="165.1" cy="1096.4" r="9.3"/>
<circle cx="164.0" cy="1111.9" r="9.3"/>
<circle cx="246.5" cy="1058.2" r="9.3"/>
<circle cx="240.9" cy="1073.7" r="9.3"/>
<circle cx="366.7" cy="1069.6" r="9.3"/>
<circle cx="299.5" cy="1153.7" r="9.3"/>
<circle cx="298.7" cy="1169.6" r="9.3"/>
<circle cx="209.0" cy="1188.6" r="9.3"/>
<circle cx="208.4" cy="1208.4" r="9.3"/>
<circle cx="315.2" cy="1200.1" r="9.3"/>
<circle cx="314.5" cy="1212.9" r="9.3"/>
<circle cx="314.1" cy="1220.1" r="9.3"/>
<circle cx="314.5" cy="1233.5" r="9.3"/>
<circle cx="429.4" cy="1078.2" r="9.3"/>
<circle cx="426.9" cy="1097.4" r="9.3"/>
<circle cx="411.4" cy="1136.6" r="9.3"/>
<circle cx="410.4" cy="1152.5" r="9.3"/>
<circle cx="414.5" cy="1172.3" r="9.3"/>
<circle cx="649.5" cy="1155.2" r="9.3"/>
<circle cx="648.5" cy="1171.6" r="9.3"/>
<circle cx="675.3" cy="1180.9" r="9.3"/>
<circle cx="674.2" cy="1190.2" r="9.3"/>
<circle cx="673.2" cy="1198.5" r="9.3"/>
<circle cx="674.2" cy="1206.7" r="9.3"/>
<circle cx="674.2" cy="1213.9" r="9.3"/>
<circle cx="648.5" cy="1212.9" r="9.3"/>
<circle cx="633.0" cy="1230.4" r="9.3"/>
<circle cx="648.0" cy="1233.5" r="9.3"/>
<circle cx="632.0" cy="1244.8" r="9.3"/>
<circle cx="728.9" cy="1176.2" r="9.3"/>
<circle cx="820.6" cy="1198.5" r="9.3"/>
<circle cx="821.2" cy="1205.7" r="9.3"/>
<circle cx="463.0" cy="1090.8" r="9.3"/>
<circle cx="473.3" cy="1087.7" r="9.3"/>
<circle cx="479.5" cy="1091.9" r="9.3"/>
<circle cx="487.7" cy="1093.9" r="9.3"/>
<circle cx="464.0" cy="1112.5" r="9.3"/>
<circle cx="474.3" cy="1108.4" r="9.3"/>
<circle cx="494.9" cy="1109.4" r="9.3"/>
<circle cx="485.7" cy="1119.7" r="9.3"/>
<circle cx="460.9" cy="1129.0" r="9.3"/>
<circle cx="473.3" cy="1126.9" r="9.3"/>
<circle cx="487.7" cy="1132.1" r="9.3"/>
<circle cx="460.9" cy="1139.3" r="9.3"/>
<circle cx="475.4" cy="1141.3" r="9.3"/>
<circle cx="487.7" cy="1143.4" r="9.3"/>
<circle cx="467.1" cy="1150.6" r="9.3"/>
<circle cx="479.5" cy="1151.6" r="9.3"/>
<circle cx="487.7" cy="1149.6" r="9.3"/>
<circle cx="479.5" cy="1047.5" r="9.3"/>
<circle cx="473.3" cy="1050.6" r="9.3"/>
<circle cx="487.7" cy="1053.7" r="9.3"/>
<circle cx="502.2" cy="1039.3" r="9.3"/>
<circle cx="508.4" cy="1043.4" r="9.3"/>
<circle cx="516.6" cy="1045.5" r="9.3"/>
<circle cx="496.0" cy="1059.9" r="9.3"/>
<circle cx="511.4" cy="1062.0" r="9.3"/>
<circle cx="505.3" cy="1065.1" r="9.3"/>
<circle cx="471.2" cy="1067.1" r="9.3"/>
<circle cx="481.5" cy="1076.4" r="9.3"/>
<circle cx="546.5" cy="1044.4" r="9.3"/>
<circle cx="557.8" cy="1045.5" r="9.3"/>
<circle cx="541.3" cy="1053.7" r="9.3"/>
<circle cx="553.7" cy="1060.9" r="9.3"/>
<circle cx="542.4" cy="1065.1" r="9.3"/>
<circle cx="537.2" cy="1072.3" r="9.3"/>
<circle cx="533.1" cy="1079.5" r="9.3"/>
<circle cx="533.1" cy="1091.9" r="9.3"/>
<circle cx="574.3" cy="1042.4" r="9.3"/>
<circle cx="578.5" cy="1030.0" r="9.3"/>
<circle cx="596.0" cy="1049.6" r="9.3"/>
<circle cx="605.3" cy="1051.6" r="9.3"/>
<circle cx="609.4" cy="1035.2" r="9.3"/>
<circle cx="596.0" cy="1069.2" r="9.3"/>
<circle cx="629.0" cy="1053.7" r="9.3"/>
<circle cx="623.8" cy="1073.3" r="9.3"/>
<circle cx="580.5" cy="1090.8" r="9.3"/>
<circle cx="564.0" cy="1097.0" r="9.3"/>
<circle cx="557.8" cy="1114.5" r="9.3"/>
<circle cx="567.1" cy="1115.6" r="9.3"/>
<circle cx="597.0" cy="1115.6" r="9.3"/>
<circle cx="590.8" cy="1122.8" r="9.3"/>
<circle cx="596.0" cy="1133.1" r="9.3"/>
<circle cx="569.2" cy="1131.0" r="9.3"/>
<circle cx="568.1" cy="1143.4" r="9.3"/>
<circle cx="605.3" cy="1147.5" r="9.3"/>
<circle cx="605.3" cy="1167.1" r="9.3"/>
<circle cx="525.9" cy="1113.5" r="9.3"/>
<circle cx="534.1" cy="1117.6" r="9.3"/>
<circle cx="541.3" cy="1120.7" r="9.3"/>
<circle cx="533.1" cy="1129.0" r="9.3"/>
<circle cx="544.4" cy="1129.0" r="9.3"/>
<circle cx="535.2" cy="1138.2" r="9.3"/>
<circle cx="536.2" cy="1146.5" r="9.3"/>
<circle cx="543.4" cy="1151.6" r="9.3"/>
<circle cx="551.6" cy="1153.7" r="9.3"/>
<circle cx="537.2" cy="1163.0" r="9.3"/>
<circle cx="546.5" cy="1164.0" r="9.3"/>
<circle cx="558.9" cy="1163.0" r="9.3"/>
<circle cx="562.0" cy="1167.1" r="9.3"/>
<circle cx="549.6" cy="1174.3" r="9.3"/>
<circle cx="538.2" cy="1172.3" r="9.3"/>
<circle cx="442.4" cy="1087.7" r="9.3"/>
<circle cx="438.2" cy="1104.2" r="9.3"/>
<circle cx="442.4" cy="1152.7" r="9.3"/>
<circle cx="440.8" cy="1169.2" r="9.3"/>
<circle cx="453.7" cy="1178.5" r="9.3"/>
<circle cx="473.3" cy="1169.2" r="9.3"/>
<circle cx="499.1" cy="1177.4" r="9.3"/>
<circle cx="434.1" cy="893.4" r="9.3"/>
<circle cx="430.0" cy="896.5" r="9.3"/>
<circle cx="447.5" cy="904.7" r="9.3"/>
<circle cx="460.4" cy="896.5" r="9.3"/>
<circle cx="469.7" cy="904.2" r="9.3"/>
<circle cx="447.0" cy="919.7" r="9.3"/>
<circle cx="456.3" cy="927.9" r="9.3"/>
<circle cx="468.1" cy="932.1" r="9.3"/>
<circle cx="430.0" cy="931.5" r="9.3"/>
<circle cx="496.5" cy="908.9" r="9.3"/>
<circle cx="501.6" cy="914.5" r="9.3"/>
<circle cx="501.1" cy="935.2" r="9.3"/>
<circle cx="464.5" cy="953.2" r="9.3"/>
<circle cx="472.8" cy="964.5" r="9.3"/>
<circle cx="460.4" cy="971.8" r="9.3"/>
<circle cx="545.5" cy="890.3" r="9.3"/>
<circle cx="536.2" cy="901.6" r="9.3"/>
<circle cx="548.6" cy="900.6" r="9.3"/>
<circle cx="558.9" cy="897.5" r="9.3"/>
<circle cx="545.5" cy="907.8" r="9.3"/>
<circle cx="565.1" cy="914.5" r="9.3"/>
<circle cx="542.4" cy="920.2" r="9.3"/>
<circle cx="532.1" cy="932.1" r="9.3"/>
<circle cx="558.9" cy="941.3" r="9.3"/>
<circle cx="536.2" cy="968.5" r="9.3"/>
<circle cx="464.0" cy="1002.2" r="9.3"/>
<circle cx="477.9" cy="999.6" r="9.3"/>
<circle cx="490.3" cy="1000.1" r="9.3"/>
<circle cx="506.8" cy="1004.7" r="9.3"/>
<circle cx="508.4" cy="1013.0" r="9.3"/>
<circle cx="502.2" cy="1021.2" r="9.3"/>
<circle cx="505.3" cy="1028.5" r="9.3"/>
<circle cx="527.4" cy="1017.6" r="9.3"/>
<circle cx="579.0" cy="1027.4" r="9.3"/>
<circle cx="609.9" cy="1030.0" r="9.3"/>
<circle cx="433.1" cy="1018.1" r="9.3"/>
<circle cx="430.0" cy="1012.0" r="9.3"/>
<circle cx="434.1" cy="1212.0" r="9.3"/>
<circle cx="452.7" cy="1193.4" r="9.3"/>
<circle cx="452.2" cy="1202.2" r="9.3"/>
<circle cx="453.7" cy="1180.0" r="9.3"/>
<circle cx="498.0" cy="1191.3" r="9.3"/>
<circle cx="506.3" cy="1200.1" r="9.3"/>
<circle cx="500.1" cy="1180.0" r="9.3"/>
<circle cx="529.0" cy="1194.9" r="9.3"/>
<circle cx="528.5" cy="1214.5" r="9.3"/>
<circle cx="553.7" cy="1196.0" r="9.3"/>
<circle cx="560.9" cy="1180.0" r="9.3"/>
<circle cx="549.6" cy="1214.0" r="9.3"/>
<circle cx="556.8" cy="1215.1" r="9.3"/>
<circle cx="568.1" cy="1214.0" r="9.3"/>
<circle cx="542.9" cy="1234.1" r="9.3"/>
<circle cx="562.0" cy="1233.1" r="9.3"/>
<circle cx="474.3" cy="1233.6" r="9.3"/>
<circle cx="518.9" cy="1248.6" r="9.3"/>
<circle cx="583.6" cy="1190.3" r="9.3"/>
<circle cx="596.0" cy="1188.8" r="9.3"/>
<circle cx="577.4" cy="1205.8" r="9.3"/>
<circle cx="594.9" cy="1208.4" r="9.3"/>
<circle cx="586.7" cy="1219.2" r="9.3"/>
<circle cx="588.8" cy="1227.4" r="9.3"/>
<circle cx="585.7" cy="1235.7" r="9.3"/>
<circle cx="587.7" cy="1243.9" r="9.3"/>
<circle cx="589.8" cy="1252.2" r="9.3"/>
<circle cx="588.8" cy="1260.4" r="9.3"/>
<circle cx="574.8" cy="1268.7" r="9.3"/>
<circle cx="588.8" cy="1269.7" r="9.3"/>
<circle cx="596.0" cy="1269.2" r="9.3"/>
<circle cx="573.8" cy="1282.1" r="9.3"/>
<circle cx="579.5" cy="1293.4" r="9.3"/>
<circle cx="596.5" cy="1288.8" r="9.3"/>
<circle cx="579.5" cy="1304.7" r="9.3"/>
<circle cx="579.0" cy="1313.0" r="9.3"/>
<circle cx="578.5" cy="1321.2" r="9.3"/>
<circle cx="551.6" cy="1283.1" r="9.3"/>
<circle cx="551.6" cy="1295.5" r="9.3"/>
<circle cx="462.0" cy="1118.0" r="9.3"/>
<circle cx="474.0" cy="1112.0" r="9.3"/>
<circle cx="486.0" cy="1120.0" r="9.3"/>
<circle cx="468.0" cy="1135.0" r="9.3"/>
<circle cx="480.0" cy="1140.0" r="9.3"/>
<circle cx="490.0" cy="1132.0" r="9.3"/>
<circle cx="470.0" cy="1150.0" r="9.3"/>
<circle cx="484.0" cy="1152.0" r="9.3"/>
<circle cx="535.0" cy="1120.0" r="9.3"/>
<circle cx="548.0" cy="1116.0" r="9.3"/>
<circle cx="540.0" cy="1150.0" r="9.3"/>
<circle cx="560.0" cy="1160.0" r="9.3"/>
<circle cx="566.0" cy="1130.0" r="9.3"/>
</g>
<polygon points="164.4,776.2 328.9,776.2 821.0,976.0 821.0,1360.0 623.4,1360.0 164.4,1172.0" fill="#bbd1ea" fill-opacity=".28" stroke="#b9d2ea" stroke-opacity=".35" stroke-width="1"/>
<polygon points="164.4,894.4 180.8,903.1 197.2,911.8 213.6,920.4 230.1,929.0 246.5,937.6 262.9,946.2 279.3,954.8 295.7,963.3 312.1,971.8 328.6,980.3 345.0,988.6 361.4,997.0 377.8,1005.2 394.2,1013.4 410.6,1021.4 427.0,1029.3 443.5,1037.0 459.9,1044.5 476.3,1051.8 492.7,1058.8 509.1,1065.5 525.5,1071.9 541.9,1078.1 558.4,1084.0 574.8,1089.7 591.2,1095.3 607.6,1100.7 624.0,1105.9 640.4,1111.1 656.9,1116.2 673.3,1121.3 689.7,1126.3 706.1,1131.2 722.5,1136.2 738.9,1141.0 755.3,1145.9 771.8,1150.7 788.2,1155.6 804.6,1160.4 821.0,1165.2 821.0,1251.4 804.6,1242.8 788.2,1234.1 771.8,1225.5 755.3,1216.9 738.9,1208.3 722.5,1199.7 706.1,1191.2 689.7,1182.7 673.3,1174.3 656.9,1165.9 640.4,1157.5 624.0,1149.3 607.6,1141.1 591.2,1133.0 574.8,1125.1 558.4,1117.4 541.9,1109.9 525.5,1102.6 509.1,1095.6 492.7,1088.8 476.3,1082.4 459.9,1076.2 443.5,1070.2 427.0,1064.5 410.6,1058.9 394.2,1053.5 377.8,1048.2 361.4,1043.0 345.0,1037.9 328.6,1032.8 312.1,1027.8 295.7,1022.9 279.3,1018.0 262.9,1013.1 246.5,1008.2 230.1,1003.4 213.6,998.5 197.2,993.7 180.8,988.9 164.4,984.2" fill="#4f8cc6" fill-opacity="0.25"/>
<path d="M163.5 1351.2H223.5" stroke="#dbe7f4" stroke-width="1.2"/>
<line x1="164.4" y1="939.3" x2="821.0" y2="1208.3" stroke="#4182ba" stroke-opacity=".6" stroke-width="6.9" stroke-linecap="round"/>
<path d="M124.5 774.1V1362.3M118.0 1361.0H851.7M112.5 775.5h12.0M118.0 814.5h6.5M112.5 853.5h12.0M118.0 892.5h6.5M112.5 931.5h12.0M118.0 970.5h6.5M112.5 1009.5h12.0M118.0 1048.5h6.5M112.5 1087.5h12.0M118.0 1126.5h6.5M112.5 1165.5h12.0M118.0 1204.5h6.5M112.5 1243.5h12.0M118.0 1282.5h6.5M112.5 1321.5h12.0M170.0 1361.0v11.5M260.7 1361.0v11.5M351.4 1361.0v11.5M442.1 1361.0v11.5M532.9 1361.0v11.5M623.6 1361.0v11.5M714.3 1361.0v11.5M805.0 1361.0v11.5M124.6 1361.0v6M215.4 1361.0v6M306.1 1361.0v6M396.8 1361.0v6M487.5 1361.0v6M578.2 1361.0v6M668.9 1361.0v6M759.6 1361.0v6M850.4 1361.0v6" stroke="#231f20" stroke-width="2.7" fill="none"/>
<text class="t" x="99.0" y="785.1" text-anchor="end">1.6</text>
<text class="t" x="99.0" y="863.1" text-anchor="end">1.4</text>
<text class="t" x="99.0" y="941.1" text-anchor="end">1.2</text>
<text class="t" x="99.0" y="1019.1" text-anchor="end">1.0</text>
<text class="t" x="99.0" y="1097.1" text-anchor="end">0.8</text>
<text class="t" x="99.0" y="1175.1" text-anchor="end">0.6</text>
<text class="t" x="99.0" y="1253.1" text-anchor="end">0.4</text>
<text class="t" x="99.0" y="1331.1" text-anchor="end">0.2</text>
<text class="t" x="170.0" y="1409.9" text-anchor="middle">−8</text>
<text class="t" x="260.7" y="1409.9" text-anchor="middle">−6</text>
<text class="t" x="351.4" y="1409.9" text-anchor="middle">−4</text>
<text class="t" x="442.1" y="1409.9" text-anchor="middle">−2</text>
<text class="t" x="532.9" y="1409.9" text-anchor="middle">0</text>
<text class="t" x="623.6" y="1409.9" text-anchor="middle">2</text>
<text class="t" x="714.3" y="1409.9" text-anchor="middle">4</text>
<text class="t" x="805.0" y="1409.9" text-anchor="middle">6</text>
<text x="464.4" y="1455.0" textLength="39.6" lengthAdjust="spacingAndGlyphs" style="font-size:29.5px;font-family:&quot;Liberation Serif&quot;, &quot;Noto Serif CJK SC&quot;, serif">FSI</text>
<text transform="translate(39.8 1066.7) rotate(-90)" style="font-size:30px"><tspan textLength="32.5" lengthAdjust="spacingAndGlyphs">CT</tspan><tspan dy="9.7" dx="0.5" style="font-size:18px" textLength="22" lengthAdjust="spacingAndGlyphs">L/S</tspan></text>
<text class="t" y="794.0"><tspan x="560.0" font-style="italic">r</tspan><tspan x="579.0">=</tspan><tspan x="603.0">−0.360</tspan><tspan x="691.5">,</tspan><tspan x="710.0" font-style="italic">P</tspan><tspan x="737.0">&lt;</tspan><tspan x="762.5">0.001</tspan></text>
<circle cx="897.2" cy="1424.0" r="24.8" fill="#231f20"/>
<text class="s" x="897.2" y="1437.8" text-anchor="middle" style="font-size:38.5px;fill:#fff;stroke:none">C</text>
</g>
<g id="panelD">
<g class="d">
<circle cx="1151.3" cy="907.1" r="9.3"/>
<circle cx="1260.6" cy="840.5" r="9.3"/>
<circle cx="1321.0" cy="854.9" r="9.3"/>
<circle cx="1381.9" cy="851.9" r="9.3"/>
<circle cx="1356.9" cy="873.5" r="9.3"/>
<circle cx="1376.3" cy="881.1" r="9.3"/>
<circle cx="1414.2" cy="914.3" r="9.3"/>
<circle cx="1228.2" cy="851.9" r="9.3"/>
<circle cx="1200.8" cy="862.2" r="9.3"/>
<circle cx="1212.2" cy="866.3" r="9.3"/>
<circle cx="1197.7" cy="877.6" r="9.3"/>
<circle cx="1201.9" cy="878.7" r="9.3"/>
<circle cx="1229.7" cy="877.6" r="9.3"/>
<circle cx="1242.1" cy="880.7" r="9.3"/>
<circle cx="1252.4" cy="878.2" r="9.3"/>
<circle cx="1270.9" cy="879.7" r="9.3"/>
<circle cx="1293.6" cy="880.7" r="9.3"/>
<circle cx="1298.8" cy="886.9" r="9.3"/>
<circle cx="1294.6" cy="894.1" r="9.3"/>
<circle cx="1300.8" cy="897.2" r="9.3"/>
<circle cx="1202.9" cy="894.1" r="9.3"/>
<circle cx="1230.7" cy="899.3" r="9.3"/>
<circle cx="1229.7" cy="902.4" r="9.3"/>
<circle cx="1178.1" cy="904.4" r="9.3"/>
<circle cx="1190.5" cy="909.6" r="9.3"/>
<circle cx="1201.9" cy="911.6" r="9.3"/>
<circle cx="1219.4" cy="912.7" r="9.3"/>
<circle cx="1174.0" cy="917.8" r="9.3"/>
<circle cx="1183.3" cy="918.9" r="9.3"/>
<circle cx="1194.6" cy="917.8" r="9.3"/>
<circle cx="1177.1" cy="925.1" r="9.3"/>
<circle cx="1163.7" cy="930.2" r="9.3"/>
<circle cx="1230.7" cy="917.8" r="9.3"/>
<circle cx="1208.0" cy="927.1" r="9.3"/>
<circle cx="1206.0" cy="932.3" r="9.3"/>
<circle cx="1231.8" cy="927.1" r="9.3"/>
<circle cx="1229.7" cy="940.5" r="9.3"/>
<circle cx="1201.9" cy="951.9" r="9.3"/>
<circle cx="1261.6" cy="925.7" r="9.3"/>
<circle cx="1267.8" cy="939.5" r="9.3"/>
<circle cx="1276.1" cy="941.5" r="9.3"/>
<circle cx="1245.6" cy="951.9" r="9.3"/>
<circle cx="1338.4" cy="901.3" r="9.3"/>
<circle cx="1341.0" cy="918.9" r="9.3"/>
<circle cx="1345.6" cy="925.1" r="9.3"/>
<circle cx="1365.8" cy="916.2" r="9.3"/>
<circle cx="1392.6" cy="935.4" r="9.3"/>
<circle cx="1404.5" cy="935.4" r="9.3"/>
<circle cx="1415.9" cy="953.9" r="9.3"/>
<circle cx="1414.2" cy="960.1" r="9.3"/>
<circle cx="1319.0" cy="951.9" r="9.3"/>
<circle cx="1328.7" cy="951.9" r="9.3"/>
<circle cx="1344.1" cy="947.7" r="9.3"/>
<circle cx="1356.5" cy="960.1" r="9.3"/>
<circle cx="1325.6" cy="969.4" r="9.3"/>
<circle cx="1374.0" cy="971.4" r="9.3"/>
<circle cx="1457.5" cy="973.5" r="9.3"/>
<circle cx="1474.0" cy="977.6" r="9.3"/>
<circle cx="1228.2" cy="985.9" r="9.3"/>
<circle cx="1249.7" cy="984.8" r="9.3"/>
<circle cx="1268.2" cy="982.2" r="9.3"/>
<circle cx="1284.3" cy="997.2" r="9.3"/>
<circle cx="1299.8" cy="995.2" r="9.3"/>
<circle cx="1308.0" cy="989.0" r="9.3"/>
<circle cx="1361.6" cy="1015.8" r="9.3"/>
<circle cx="1417.9" cy="1015.8" r="9.3"/>
<circle cx="1283.3" cy="1019.9" r="9.3"/>
<circle cx="1310.1" cy="1019.9" r="9.3"/>
<circle cx="1229.7" cy="1018.9" r="9.3"/>
<circle cx="1219.4" cy="1027.1" r="9.3"/>
<circle cx="1200.8" cy="1034.3" r="9.3"/>
<circle cx="1299.8" cy="1033.3" r="9.3"/>
<circle cx="1285.4" cy="1035.4" r="9.3"/>
<circle cx="1344.7" cy="1029.2" r="9.3"/>
<circle cx="1344.1" cy="1036.4" r="9.3"/>
<circle cx="1359.6" cy="1038.5" r="9.3"/>
<circle cx="1457.5" cy="1043.6" r="9.3"/>
<circle cx="1157.8" cy="1053.1" r="9.3"/>
<circle cx="1194.9" cy="1068.6" r="9.3"/>
<circle cx="1205.7" cy="1063.2" r="9.3"/>
<circle cx="1228.9" cy="1059.3" r="9.3"/>
<circle cx="1223.5" cy="1064.7" r="9.3"/>
<circle cx="1195.7" cy="1086.4" r="9.3"/>
<circle cx="1206.5" cy="1081.8" r="9.3"/>
<circle cx="1215.8" cy="1078.7" r="9.3"/>
<circle cx="1223.5" cy="1086.4" r="9.3"/>
<circle cx="1252.1" cy="1074.8" r="9.3"/>
<circle cx="1242.1" cy="1090.3" r="9.3"/>
<circle cx="1231.2" cy="1094.9" r="9.3"/>
<circle cx="1223.5" cy="1101.1" r="9.3"/>
<circle cx="1263.7" cy="1086.4" r="9.3"/>
<circle cx="1268.3" cy="1087.9" r="9.3"/>
<circle cx="1196.4" cy="1109.9" r="9.3"/>
<circle cx="1257.1" cy="1123.5" r="9.3"/>
<circle cx="1218.9" cy="1133.6" r="9.3"/>
<circle cx="1232.0" cy="1137.4" r="9.3"/>
<circle cx="1247.2" cy="1139.7" r="9.3"/>
<circle cx="1271.7" cy="1147.5" r="9.3"/>
<circle cx="1290.8" cy="1155.2" r="9.3"/>
<circle cx="1250.1" cy="1176.8" r="9.3"/>
<circle cx="1295.9" cy="1178.4" r="9.3"/>
<circle cx="1279.2" cy="1063.2" r="9.3"/>
<circle cx="1291.5" cy="1070.9" r="9.3"/>
<circle cx="1276.1" cy="1055.5" r="9.3"/>
<circle cx="1327.1" cy="1059.3" r="9.3"/>
<circle cx="1347.2" cy="1053.9" r="9.3"/>
<circle cx="1341.0" cy="1061.6" r="9.3"/>
<circle cx="1347.2" cy="1075.6" r="9.3"/>
<circle cx="1381.7" cy="1060.9" r="9.3"/>
<circle cx="1420.7" cy="1067.8" r="9.3"/>
<circle cx="1367.3" cy="1083.3" r="9.3"/>
<circle cx="1388.2" cy="1082.5" r="9.3"/>
<circle cx="1387.4" cy="1087.9" r="9.3"/>
<circle cx="1412.9" cy="1090.3" r="9.3"/>
<circle cx="1303.9" cy="1090.3" r="9.3"/>
<circle cx="1314.7" cy="1092.6" r="9.3"/>
<circle cx="1303.9" cy="1101.9" r="9.3"/>
<circle cx="1316.3" cy="1104.9" r="9.3"/>
<circle cx="1336.4" cy="1101.9" r="9.3"/>
<circle cx="1336.4" cy="1109.6" r="9.3"/>
<circle cx="1311.6" cy="1112.7" r="9.3"/>
<circle cx="1314.7" cy="1120.4" r="9.3"/>
<circle cx="1300.8" cy="1124.3" r="9.3"/>
<circle cx="1311.6" cy="1129.7" r="9.3"/>
<circle cx="1309.3" cy="1139.0" r="9.3"/>
<circle cx="1321.7" cy="1148.2" r="9.3"/>
<circle cx="1327.1" cy="1163.7" r="9.3"/>
<circle cx="1335.6" cy="1126.6" r="9.3"/>
<circle cx="1344.1" cy="1128.1" r="9.3"/>
<circle cx="1353.4" cy="1129.7" r="9.3"/>
<circle cx="1358.0" cy="1121.2" r="9.3"/>
<circle cx="1345.7" cy="1137.4" r="9.3"/>
<circle cx="1362.7" cy="1139.0" r="9.3"/>
<circle cx="1364.2" cy="1140.5" r="9.3"/>
<circle cx="1381.2" cy="1125.8" r="9.3"/>
<circle cx="1387.4" cy="1108.0" r="9.3"/>
<circle cx="1362.7" cy="1106.5" r="9.3"/>
<circle cx="1429.2" cy="1103.4" r="9.3"/>
<circle cx="1428.4" cy="1111.9" r="9.3"/>
<circle cx="1389.0" cy="1146.7" r="9.3"/>
<circle cx="1393.6" cy="1149.8" r="9.3"/>
<circle cx="1406.0" cy="1146.7" r="9.3"/>
<circle cx="1373.5" cy="1156.7" r="9.3"/>
<circle cx="1408.3" cy="1162.2" r="9.3"/>
<circle cx="1426.1" cy="1157.5" r="9.3"/>
<circle cx="1395.9" cy="1176.8" r="9.3"/>
<circle cx="1341.0" cy="1183.8" r="9.3"/>
<circle cx="1414.5" cy="1185.4" r="9.3"/>
<circle cx="1399.0" cy="1196.2" r="9.3"/>
<circle cx="1429.2" cy="1196.2" r="9.3"/>
<circle cx="1496.5" cy="1064.3" r="9.3"/>
<circle cx="1460.2" cy="1072.2" r="9.3"/>
<circle cx="1436.2" cy="1083.8" r="9.3"/>
<circle cx="1462.1" cy="1103.7" r="9.3"/>
<circle cx="1463.0" cy="1127.4" r="9.3"/>
<circle cx="1444.0" cy="1132.0" r="9.3"/>
<circle cx="1496.9" cy="1132.5" r="9.3"/>
<circle cx="1501.6" cy="1145.9" r="9.3"/>
<circle cx="1524.8" cy="1123.5" r="9.3"/>
<circle cx="1467.2" cy="1152.1" r="9.3"/>
<circle cx="1471.0" cy="1163.7" r="9.3"/>
<circle cx="1508.1" cy="1192.3" r="9.3"/>
<circle cx="1446.3" cy="1177.6" r="9.3"/>
<circle cx="1454.0" cy="1179.9" r="9.3"/>
<circle cx="1484.9" cy="1182.3" r="9.3"/>
<circle cx="1474.1" cy="1186.9" r="9.3"/>
<circle cx="1452.5" cy="1196.2" r="9.3"/>
<circle cx="1430.8" cy="1194.6" r="9.3"/>
<circle cx="1234.0" cy="1201.8" r="9.3"/>
<circle cx="1317.8" cy="1206.4" r="9.3"/>
<circle cx="1331.7" cy="1201.8" r="9.3"/>
<circle cx="1337.2" cy="1202.5" r="9.3"/>
<circle cx="1359.3" cy="1203.3" r="9.3"/>
<circle cx="1358.0" cy="1220.3" r="9.3"/>
<circle cx="1359.3" cy="1239.6" r="9.3"/>
<circle cx="1393.6" cy="1214.1" r="9.3"/>
<circle cx="1404.4" cy="1220.3" r="9.3"/>
<circle cx="1415.2" cy="1209.5" r="9.3"/>
<circle cx="1429.2" cy="1206.4" r="9.3"/>
<circle cx="1424.5" cy="1218.8" r="9.3"/>
<circle cx="1429.2" cy="1224.9" r="9.3"/>
<circle cx="1426.8" cy="1238.9" r="9.3"/>
<circle cx="1371.6" cy="1270.9" r="9.3"/>
<circle cx="1404.0" cy="1272.6" r="9.3"/>
<circle cx="1418.3" cy="1286.8" r="9.3"/>
<circle cx="1404.4" cy="1296.1" r="9.3"/>
<circle cx="1416.8" cy="1299.2" r="9.3"/>
<circle cx="1426.1" cy="1294.5" r="9.3"/>
<circle cx="1418.3" cy="1310.0" r="9.3"/>
<circle cx="1427.3" cy="1321.6" r="9.3"/>
<circle cx="1323.5" cy="1306.9" r="9.3"/>
<circle cx="1585.8" cy="1209.5" r="9.3"/>
<circle cx="1477.2" cy="1207.2" r="9.3"/>
<circle cx="1492.7" cy="1212.6" r="9.3"/>
<circle cx="1497.3" cy="1219.5" r="9.3"/>
<circle cx="1486.5" cy="1223.4" r="9.3"/>
<circle cx="1488.0" cy="1232.7" r="9.3"/>
<circle cx="1493.9" cy="1239.6" r="9.3"/>
<circle cx="1463.3" cy="1231.1" r="9.3"/>
<circle cx="1452.5" cy="1215.7" r="9.3"/>
<circle cx="1451.7" cy="1207.9" r="9.3"/>
<circle cx="1453.7" cy="1239.6" r="9.3"/>
<circle cx="1435.5" cy="1221.9" r="9.3"/>
<circle cx="1430.8" cy="1212.6" r="9.3"/>
<circle cx="1435.5" cy="1250.5" r="9.3"/>
<circle cx="1511.2" cy="1250.5" r="9.3"/>
<circle cx="1531.3" cy="1253.6" r="9.3"/>
<circle cx="1478.5" cy="1257.1" r="9.3"/>
<circle cx="1478.5" cy="1272.9" r="9.3"/>
<circle cx="1498.1" cy="1276.0" r="9.3"/>
<circle cx="1430.8" cy="1288.3" r="9.3"/>
<circle cx="1783.6" cy="1108.7" r="9.3"/>
<circle cx="1783.6" cy="1162.8" r="9.3"/>
<circle cx="1760.9" cy="1176.9" r="9.3"/>
<circle cx="1760.9" cy="1204.0" r="9.3"/>
</g>
<polygon points="1151.0,802.7 1204.7,802.7 1783.6,1155.3 1783.6,1360.0 1470.0,1360.0 1151.0,1160.5" fill="#bbd1ea" fill-opacity=".28" stroke="#b9d2ea" stroke-opacity=".35" stroke-width="1"/>
<polygon points="1151.0,939.7 1166.8,951.3 1182.6,963.0 1198.4,974.6 1214.3,986.1 1230.1,997.7 1245.9,1009.2 1261.7,1020.6 1277.5,1031.9 1293.3,1043.1 1309.2,1054.2 1325.0,1064.9 1340.8,1075.4 1356.6,1085.4 1372.4,1095.1 1388.2,1104.3 1404.0,1113.2 1419.9,1121.9 1435.7,1130.4 1451.5,1138.7 1467.3,1147.1 1483.1,1155.3 1498.9,1163.5 1514.7,1171.7 1530.6,1179.8 1546.4,1187.9 1562.2,1196.0 1578.0,1204.1 1593.8,1212.2 1609.6,1220.3 1625.4,1228.3 1641.3,1236.4 1657.1,1244.4 1672.9,1252.5 1688.7,1260.5 1704.5,1268.6 1720.3,1276.6 1736.2,1284.6 1752.0,1292.7 1767.8,1300.7 1783.6,1308.7 1783.6,1360.0 1767.8,1360.0 1752.0,1360.0 1736.2,1360.0 1720.3,1360.0 1704.5,1352.7 1688.7,1341.0 1672.9,1329.3 1657.1,1317.6 1641.3,1305.9 1625.4,1294.2 1609.6,1282.5 1593.8,1270.9 1578.0,1259.2 1562.2,1247.5 1546.4,1235.9 1530.6,1224.3 1514.7,1212.7 1498.9,1201.1 1483.1,1189.5 1467.3,1178.0 1451.5,1166.6 1435.7,1155.3 1419.9,1144.0 1404.0,1132.9 1388.2,1122.1 1372.4,1111.6 1356.6,1101.4 1340.8,1091.7 1325.0,1082.4 1309.2,1073.5 1293.3,1064.8 1277.5,1056.2 1261.7,1047.8 1245.9,1039.5 1230.1,1031.3 1214.3,1023.0 1198.4,1014.9 1182.6,1006.7 1166.8,998.6 1151.0,990.5" fill="#4f8cc6" fill-opacity="0.23"/>
<line x1="1151.0" y1="965.1" x2="1781.0" y2="1358.5" stroke="#4182ba" stroke-opacity=".6" stroke-width="6.9" stroke-linecap="round"/>
<path d="M1135.0 801.6V1362.3M1128.5 1361.0H1827.9M1123.0 803.0h12.0M1128.5 840.1h6.5M1123.0 877.2h12.0M1128.5 914.3h6.5M1123.0 951.4h12.0M1128.5 988.5h6.5M1123.0 1025.6h12.0M1128.5 1062.8h6.5M1123.0 1099.9h12.0M1128.5 1137.0h6.5M1123.0 1174.1h12.0M1128.5 1211.2h6.5M1123.0 1248.3h12.0M1128.5 1285.4h6.5M1123.0 1322.5h12.0M1193.0 1361.0v11.5M1308.2 1361.0v11.5M1423.4 1361.0v11.5M1538.6 1361.0v11.5M1653.8 1361.0v11.5M1769.0 1361.0v11.5M1135.4 1361.0v6M1250.6 1361.0v6M1365.8 1361.0v6M1481.0 1361.0v6M1596.2 1361.0v6M1711.4 1361.0v6M1826.6 1361.0v6" stroke="#231f20" stroke-width="2.7" fill="none"/>
<text class="t" x="1109.5" y="812.6" text-anchor="end">1.6</text>
<text class="t" x="1109.5" y="886.8" text-anchor="end">1.4</text>
<text class="t" x="1109.5" y="961.0" text-anchor="end">1.2</text>
<text class="t" x="1109.5" y="1035.2" text-anchor="end">1.0</text>
<text class="t" x="1109.5" y="1109.5" text-anchor="end">0.8</text>
<text class="t" x="1109.5" y="1183.7" text-anchor="end">0.6</text>
<text class="t" x="1109.5" y="1257.9" text-anchor="end">0.4</text>
<text class="t" x="1109.5" y="1332.1" text-anchor="end">0.2</text>
<text class="t" x="1193.0" y="1410.1" text-anchor="middle">20</text>
<text class="t" x="1308.2" y="1410.1" text-anchor="middle">30</text>
<text class="t" x="1423.4" y="1410.1" text-anchor="middle">40</text>
<text class="t" x="1538.6" y="1410.1" text-anchor="middle">50</text>
<text class="t" x="1653.8" y="1410.1" text-anchor="middle">60</text>
<text class="t" x="1769.0" y="1410.1" text-anchor="middle">70</text>
<text x="1426.6" y="1456.3" textLength="111.0" lengthAdjust="spacingAndGlyphs" style="font-size:29.5px;font-family:&quot;Liberation Serif&quot;, &quot;Noto Serif CJK SC&quot;, serif">ZJU 指数</text>
<text transform="translate(1051.8 1066.7) rotate(-90)" style="font-size:30px"><tspan textLength="32.5" lengthAdjust="spacingAndGlyphs">CT</tspan><tspan dy="9.7" dx="0.5" style="font-size:18px" textLength="22" lengthAdjust="spacingAndGlyphs">L/S</tspan></text>
<text class="t" y="809.0"><tspan x="1559.0" font-style="italic">r</tspan><tspan x="1578.0">=</tspan><tspan x="1602.0">−0.585</tspan><tspan x="1690.5">,</tspan><tspan x="1709.0" font-style="italic">P</tspan><tspan x="1736.0">&lt;</tspan><tspan x="1761.5">0.001</tspan></text>
<circle cx="1912.9" cy="1424.0" r="24.8" fill="#231f20"/>
<text class="s" x="1912.9" y="1437.8" text-anchor="middle" style="font-size:38.5px;fill:#fff;stroke:none">D</text>
</g>
</svg></body></html>
